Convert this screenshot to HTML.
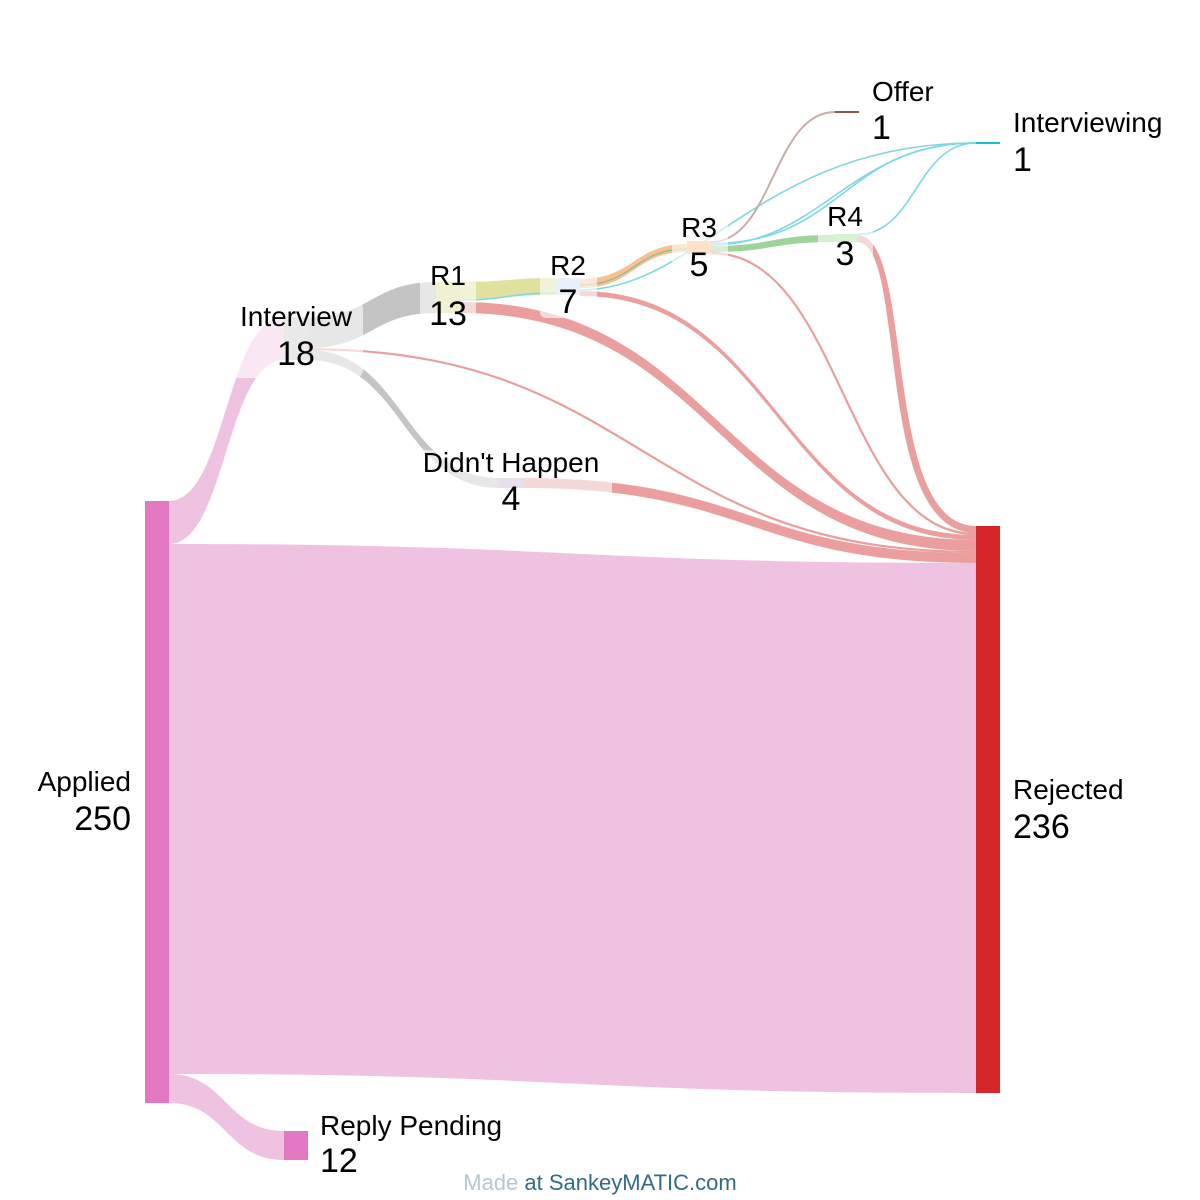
<!DOCTYPE html>
<html><head><meta charset="utf-8"><style>
html,body{margin:0;padding:0;background:#fff;}
svg{display:block;}
text{font-family:"Liberation Sans",Arial,sans-serif;fill:#000;}
.n{font-size:28px;}
.v{font-size:34px;}
</style></head><body>
<svg width="1200" height="1200" viewBox="0 0 1200 1200" xmlns="http://www.w3.org/2000/svg">
<!-- links -->
<g>
<path d="M169 544 C572 544 572 563 976 563 L976 1093 C572 1093 572 1074 169 1074Z" fill="#f0c2e1"/>
<path d="M169 501 C226 501 226 317 284 317 L284 360 C226 360 226 544 169 544Z" fill="#f0c2e1"/>
<path d="M169 1074 C226 1074 226 1131 284 1131 L284 1160 C226 1160 226 1103 169 1103Z" fill="#f0c2e1"/>
<path d="M308 317 C372 317 372 282 436 282 L436 313 C372 313 372 348 308 348Z" fill="#c4c4c4"/>
<path d="M308 350 C403 350 403 478 499 478 L499 488 C403 488 403 360 308 360Z" fill="#c4c4c4"/>
<path d="M308 349.2 C642 349.2 642 552 976 552" stroke="#ea9e9e" stroke-width="2.2" fill="none"/>
<path d="M460 282 C508 282 508 278 556 278 L556 295 C508 295 508 299 460 299Z" fill="#e1e19e"/>
<path d="M460 300 C508 300 508 293 556 293" stroke="#7fd8e0" stroke-width="1.5" fill="none"/>
<path d="M460 302 C718 302 718 540 976 540 L976 551 C718 551 718 313 460 313Z" fill="#ea9e9e"/>
<path d="M523 478 C750 478 750 553 976 553 L976 563 C750 563 750 488 523 488Z" fill="#ea9e9e"/>
<path d="M580 279 C634 279 634 244 687 244 L687 252 C634 252 634 288 580 288Z" fill="#fdc08a"/>
<path d="M580 285 C634 285 634 249 687 249" stroke="#6fc4b8" stroke-width="1.2" fill="none"/>
<path d="M580 290 C700 290 760 143 976 143" stroke="#7fd8e0" stroke-width="1.6" fill="none"/>
<path d="M580 291 C778 291 778 535 976 535 L976 540 C778 540 778 296 580 296Z" fill="#ea9e9e"/>
<path d="M711 242 C773 242 773 112 835 112" stroke="#c8aca6" stroke-width="2" fill="none"/>
<path d="M711 243.5 C843 243.5 843 143 976 143" stroke="#7fd8e0" stroke-width="1.6" fill="none"/>
<path d="M711 245 C820 245 850 143 976 143" stroke="#7fd8e0" stroke-width="1.6" fill="none"/>
<path d="M711 246 C772 246 772 235 833 235 L833 242 C772 242 772 252 711 252Z" fill="#9ed39a"/>
<path d="M711 253 C843 253 843 534 976 534" stroke="#ea9e9e" stroke-width="2.2" fill="none"/>
<path d="M857 234.5 C916 234.5 916 143 976 143" stroke="#7fd8e0" stroke-width="1.6" fill="none"/>
<path d="M857 235 C916 235 880 526 976 526 L976 533 C872 533 908 242 857 242Z" fill="#ea9e9e"/>
</g>
<!-- nodes -->
<rect x="145" y="501" width="24" height="602" fill="#e377c2"/>
<rect x="976" y="526" width="24" height="567" fill="#d62728"/>
<rect x="284" y="1131" width="24" height="29" fill="#e377c2"/>
<rect x="284" y="317" width="24" height="43" fill="#c7c7c7"/>
<rect x="436" y="282" width="24" height="31" fill="#dbdb8d"/>
<rect x="556" y="278" width="24" height="17" fill="#c6dbef"/>
<rect x="687" y="241" width="24" height="13" fill="#ffbb78"/>
<rect x="833" y="234" width="24" height="8" fill="#98df8a"/>
<rect x="499" y="478" width="24" height="10" fill="#c5b0d5"/>
<rect x="835" y="111" width="24" height="2" fill="#8c564b"/>
<rect x="976" y="142" width="24" height="2" fill="#17becf"/>
<!-- label backgrounds -->
<g fill="#fff" opacity="0.6">
<rect x="228" y="300" width="135" height="78" rx="8"/>
<rect x="420" y="268" width="56" height="62" rx="6"/>
<rect x="540" y="258" width="57" height="60" rx="6"/>
<rect x="672" y="220" width="56" height="60" rx="6"/>
<rect x="818" y="210" width="55" height="58" rx="6"/>
<rect x="418" y="450" width="194" height="66" rx="6"/>
</g>
<!-- labels -->
<text class="n" x="131" y="791" text-anchor="end">Applied</text>
<text class="v" x="131" y="830" text-anchor="end">250</text>
<text class="n" x="1013" y="799">Rejected</text>
<text class="v" x="1013" y="838">236</text>
<text class="n" x="320" y="1135">Reply Pending</text>
<text class="v" x="320" y="1172">12</text>
<text class="n" x="296" y="326" text-anchor="middle">Interview</text>
<text class="v" x="296" y="365" text-anchor="middle">18</text>
<text class="n" x="448" y="285" text-anchor="middle">R1</text>
<text class="v" x="448" y="325" text-anchor="middle">13</text>
<text class="n" x="568" y="275" text-anchor="middle">R2</text>
<text class="v" x="568" y="313" text-anchor="middle">7</text>
<text class="n" x="699" y="237" text-anchor="middle">R3</text>
<text class="v" x="699" y="276" text-anchor="middle">5</text>
<text class="n" x="845" y="226" text-anchor="middle">R4</text>
<text class="v" x="845" y="265" text-anchor="middle">3</text>
<text class="n" x="511" y="472" text-anchor="middle">Didn't Happen</text>
<text class="v" x="511" y="510" text-anchor="middle">4</text>
<text class="n" x="872" y="101">Offer</text>
<text class="v" x="872" y="139">1</text>
<text class="n" x="1013" y="132">Interviewing</text>
<text class="v" x="1013" y="171">1</text>
<text x="600" y="1190" text-anchor="middle" style="font-size:22px;fill:#336a86"><tspan style="fill:#b4c8d2">Made</tspan> at SankeyMATIC.com</text>
</svg>
</body></html>
